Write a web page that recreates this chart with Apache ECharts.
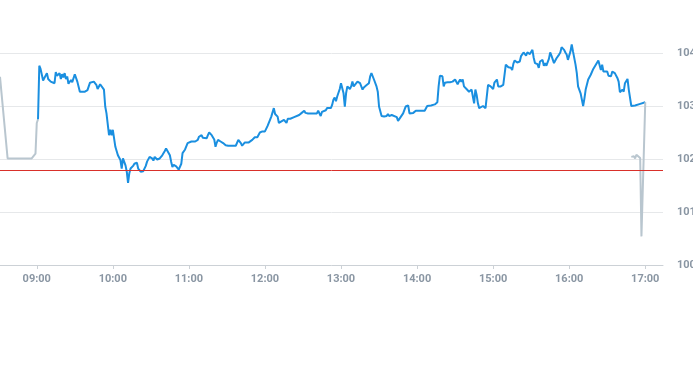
<!DOCTYPE html>
<html><head><meta charset="utf-8">
<script src="https://cdn.jsdelivr.net/npm/echarts@6/dist/echarts.min.js"></script>
<style>html,body{margin:0;padding:0;background:#fff}#c{width:693px;height:365px}</style>
</head><body><div id="c"></div>
<script>
const hourLabels = ['09:00','10:00','11:00','12:00','13:00','14:00','15:00','16:00','17:00'];
const yTicks = [100, 101, 102, 103, 104];
const refLevel = 101.79;

const preTimes = ['08:31','08:37','08:56','08:59','09:00','09:01'];
const preValues = [103.55,102.01,102.01,102.10,102.68,102.75];

const sessionTimes = ['09:01','09:02','09:03','09:05','09:06','09:08','09:09','09:11','09:12','09:14','09:15','09:16','09:18','09:19','09:20','09:21','09:22','09:23','09:24','09:25','09:27','09:28','09:30','09:31','09:32','09:34','09:38','09:40','09:42','09:45','09:47','09:48','09:50','09:51','09:53','09:54','09:55','09:57','09:58','09:59',
'10:00','10:01','10:02','10:03','10:04','10:05','10:06','10:07','10:08','10:09','10:10','10:11','10:12','10:13','10:14','10:16','10:17','10:19','10:20','10:22','10:24','10:26','10:27','10:29','10:31','10:32','10:33','10:35','10:37','10:39','10:41','10:42','10:43','10:45','10:46','10:47','10:48','10:50','10:52','10:53','10:54','10:55','10:57','10:58','10:59',
'11:00','11:02','11:03','11:05','11:07','11:08','11:10','11:11','11:12','11:14','11:15','11:16','11:18','11:20','11:21','11:22','11:23','11:25','11:27','11:29','11:31','11:37','11:39','11:41','11:42','11:44','11:47','11:50','11:52','11:54','11:56','11:58',
'12:00','12:02','12:04','12:05','12:06','12:07','12:08','12:10','12:11','12:13','12:15','12:16','12:17','12:18','12:20','12:23','12:27','12:29','12:31','12:32','12:34','12:41','12:42','12:44','12:45','12:46','12:48','12:49','12:52','12:53','12:54','12:55','12:56','12:57','12:59',
'13:00','13:01','13:02','13:03','13:04','13:05','13:07','13:08','13:09','13:10','13:11','13:13','13:15','13:17','13:18','13:20','13:22','13:23','13:24','13:26','13:28','13:29','13:30','13:32','13:34','13:36','13:37','13:38','13:40','13:41','13:44','13:45','13:47','13:49','13:51','13:53','13:54','13:57','13:59',
'14:06','14:08','14:11','14:14','14:16','14:17','14:18','14:20','14:21','14:22','14:24','14:25','14:26','14:28','14:29','14:30','14:32','14:33','14:34','14:35','14:36','14:37','14:39','14:41','14:42','14:43','14:44','14:45','14:46','14:47','14:48','14:49','14:50','14:52','14:54','14:55','14:56','14:58','14:59',
'15:00','15:01','15:03','15:04','15:05','15:06','15:08','15:10','15:11','15:12','15:14','15:15','15:16','15:17','15:19','15:21','15:22','15:24','15:25','15:26','15:27','15:28','15:29','15:30','15:31','15:32','15:33','15:35','15:36','15:37','15:39','15:40','15:41','15:42','15:44','15:45','15:46','15:48','15:49','15:50','15:52','15:53','15:54','15:56','15:57','15:58','15:59',
'16:01','16:02','16:03','16:05','16:06','16:07','16:09','16:10','16:11','16:12','16:13','16:15','16:17','16:19','16:21','16:23','16:25','16:26','16:27','16:28','16:30','16:31','16:33','16:34','16:36','16:38','16:39','16:40','16:42','16:43','16:44','16:46','16:47','16:49','16:52','16:56','17:00'];
const sessionValues = [102.75,103.76,103.70,103.48,103.50,103.62,103.51,103.46,103.46,103.43,103.64,103.57,103.62,103.51,103.60,103.54,103.62,103.51,103.56,103.42,103.49,103.45,103.60,103.60,103.46,103.27,103.27,103.30,103.44,103.46,103.40,103.32,103.41,103.39,103.31,102.99,102.86,102.45,102.55,102.45,
102.55,102.52,102.23,102.26,102.07,102.10,101.98,101.82,102.01,101.98,101.88,101.76,101.55,101.73,101.82,101.87,101.91,101.93,101.82,101.76,101.77,101.87,101.95,102.04,102.01,101.97,102.04,101.99,102.01,102.07,102.15,102.20,102.20,102.07,101.95,101.85,101.89,101.86,101.80,101.83,101.91,102.11,102.18,102.21,102.30,
102.28,102.33,102.36,102.33,102.36,102.42,102.45,102.40,102.37,102.39,102.45,102.50,102.45,102.37,102.23,102.31,102.36,102.33,102.30,102.26,102.25,102.25,102.36,102.30,102.25,102.31,102.31,102.36,102.41,102.41,102.50,102.52,
102.52,102.62,102.74,102.80,102.88,102.96,102.85,102.80,102.68,102.71,102.74,102.76,102.68,102.76,102.76,102.79,102.83,102.87,102.91,102.87,102.86,102.86,102.91,102.81,102.89,102.86,102.92,102.96,102.96,103.02,103.12,103.16,103.09,103.18,103.32,
103.43,103.46,103.24,102.99,103.24,103.37,103.32,103.37,103.46,103.37,103.37,103.46,103.43,103.31,103.35,103.39,103.43,103.56,103.62,103.50,103.37,103.27,102.99,102.81,102.80,102.81,102.85,102.81,102.83,102.83,102.79,102.72,102.79,102.86,102.99,103.01,102.86,102.87,102.91,
102.91,103.00,103.01,103.03,103.07,103.37,103.57,103.56,103.37,103.44,103.45,103.46,103.45,103.46,103.44,103.50,103.41,103.46,103.50,103.46,103.50,103.37,103.32,103.27,103.24,103.31,103.18,103.05,103.31,103.21,103.05,102.96,102.99,103.00,102.96,103.18,103.40,103.37,103.34,
103.32,103.44,103.50,103.37,103.40,103.37,103.40,103.78,103.81,103.73,103.72,103.68,103.80,103.86,103.82,103.84,103.94,104.01,103.98,103.95,104.01,104.01,103.98,104.00,104.06,103.91,103.81,103.79,103.72,103.84,103.87,103.76,103.81,103.76,103.89,104.01,103.95,103.81,103.84,103.90,103.97,104.01,104.11,104.06,104.01,103.97,103.87,
104.03,104.16,104.03,103.78,103.62,103.37,103.24,103.12,103.00,103.14,103.31,103.50,103.59,103.70,103.78,103.86,103.68,103.78,103.65,103.62,103.65,103.57,103.56,103.65,103.62,103.53,103.46,103.26,103.31,103.27,103.43,103.51,103.31,103.00,103.01,103.04,103.07];

const postTimes = ['16:49','16:51','16:52','16:53','16:54','16:56','16:57','16:58','17:00'];
const postValues = [102.04,102.05,102.01,102.08,102.11,102.02,100.54,100.54,103.07];

// category axis: one slot per minute 08:31 .. 17:14
const categories = [];
for (let m = 8*60+31; m <= 17*60+14; m++) {
  const h = Math.floor(m/60), mm = m%60;
  categories.push(String(h).padStart(2,'0') + ':' + String(mm).padStart(2,'0'));
}
const pairs = (t, v) => t.map((x, i) => [x, v[i]]);
const isHour = (idx, val) => hourLabels.indexOf(val) >= 0;

const chart = echarts.init(document.getElementById('c'));
chart.setOption({
  animation: false,
  grid: { left: 0, right: 30, top: 53, bottom: 100, containLabel: false, outerBoundsMode: 'none' },
  xAxis: {
    type: 'category', data: categories, boundaryGap: false,
    axisLine: { lineStyle: { color: '#ccd1d6' } },
    axisTick: { interval: isHour, length: 4, lineStyle: { color: '#ccd1d6' } },
    axisLabel: { interval: isHour, color: '#8a96a3', fontSize: 11, fontWeight: 'bold', margin: 9, fontFamily: 'Roboto, Arial, sans-serif' },
    splitLine: { show: false }
  },
  yAxis: {
    type: 'value', position: 'right', min: yTicks[0], max: yTicks[yTicks.length-1], interval: 1,
    axisLine: { show: false }, axisTick: { show: false },
    axisLabel: { color: '#8a96a3', fontSize: 11, fontWeight: 'bold', margin: 14, padding: [5, 0, 0, 0], fontFamily: 'Roboto, Arial, sans-serif' },
    splitLine: { lineStyle: { color: '#e6e8ea' } }
  },
  series: [
    { type: 'line', data: pairs(sessionTimes, sessionValues), showSymbol: false, clip: false,
      lineStyle: { color: '#1a8fe0', width: 2 }, z: 3,
      markLine: { silent: true, symbol: 'none', label: { show: false },
        lineStyle: { color: '#d9302a', width: 1, type: 'solid' }, data: [{ yAxis: refLevel }] } },
    { type: 'line', data: pairs(preTimes, preValues), showSymbol: false, clip: false,
      lineStyle: { color: '#b9c6cf', width: 2 }, z: 2 },
    { type: 'line', data: pairs(postTimes, postValues), showSymbol: false, clip: false,
      lineStyle: { color: '#b9c6cf', width: 2 }, z: 4 }
  ]
});
</script></body></html>
